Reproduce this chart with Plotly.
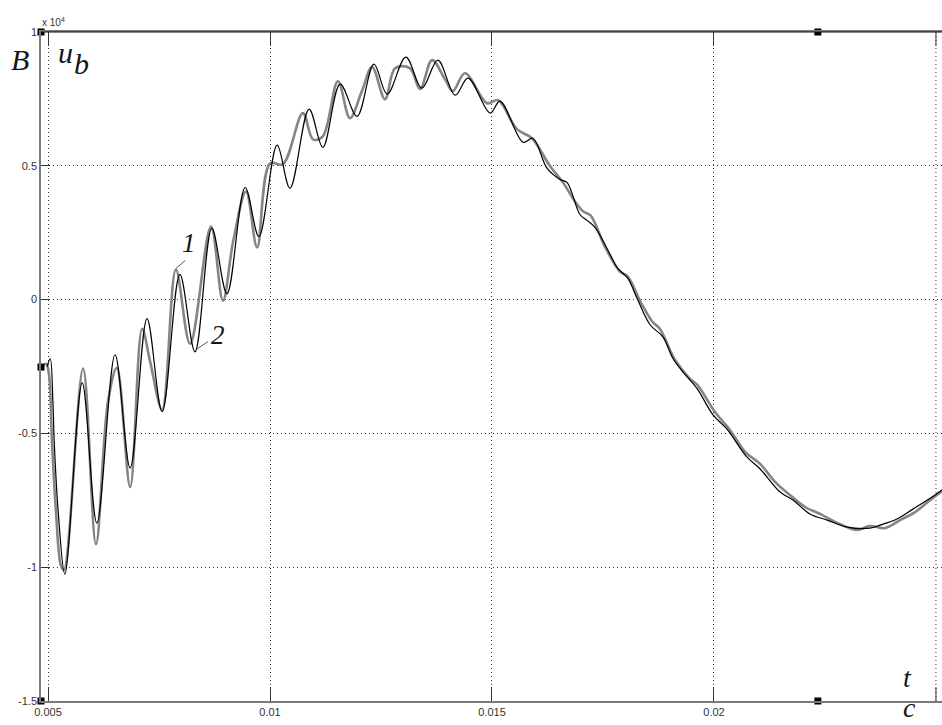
import plotly.graph_objects as go

# ---- data (t in seconds, u_b in units of 1e4) ----
t1 = [0.00498, 0.00505, 0.00511, 0.00514, 0.00523, 0.00538, 0.00577, 0.00610, 0.00651, 0.00685,
      0.00723, 0.00757, 0.00797, 0.00831, 0.00869, 0.00903, 0.00944, 0.00975, 0.01016, 0.01045,
      0.01088, 0.01119, 0.01158, 0.01196, 0.01234, 0.01264, 0.01306, 0.01342, 0.01378, 0.01417,
      0.01446, 0.01496, 0.01518, 0.01570, 0.01592, 0.01624, 0.01653, 0.01669, 0.01698, 0.01714,
      0.01732, 0.01766, 0.01782, 0.01806, 0.01827, 0.01856, 0.01885, 0.01908, 0.01930, 0.01962,
      0.01998, 0.02029, 0.02074, 0.02104, 0.02149, 0.02178, 0.02216, 0.02255, 0.02300, 0.02351,
      0.02374, 0.02412, 0.02448, 0.02498, 0.02520]
u1 = [-0.251, -0.221, -0.382, -0.532, -0.794, -1.026, -0.311, -0.835, -0.206, -0.629,
      -0.071, -0.419, 0.094, -0.195, 0.266, 0.022, 0.419, 0.236, 0.577, 0.416,
      0.712, 0.569, 0.805, 0.685, 0.880, 0.768, 0.906, 0.790, 0.895, 0.764,
      0.828, 0.697, 0.742, 0.588, 0.603, 0.491, 0.449, 0.438, 0.318, 0.296,
      0.270, 0.169, 0.120, 0.079, 0.004, -0.094, -0.139, -0.221, -0.270, -0.333,
      -0.431, -0.483, -0.588, -0.633, -0.719, -0.749, -0.801, -0.824, -0.850, -0.854,
      -0.843, -0.820, -0.783, -0.730, -0.704]

t2 = [0.00484, 0.00496, 0.00502, 0.00509, 0.00518, 0.00529, 0.00536, 0.00579, 0.00608, 0.00635,
      0.00655, 0.00685, 0.00712, 0.00730, 0.00757, 0.00788, 0.00820, 0.00867, 0.00894, 0.00917,
      0.00946, 0.00971, 0.01000, 0.01029, 0.01074, 0.01097, 0.01119, 0.01153, 0.01180, 0.01207,
      0.01230, 0.01259, 0.01282, 0.01315, 0.01338, 0.01365, 0.01394, 0.01412, 0.01439, 0.01489,
      0.01514, 0.01556, 0.01590, 0.01631, 0.01658, 0.01687, 0.01705, 0.01722, 0.01754, 0.01788,
      0.01806, 0.01834, 0.01861, 0.01878, 0.01912, 0.01946, 0.01962, 0.02002, 0.02036, 0.02070,
      0.02104, 0.02138, 0.02171, 0.02205, 0.02239, 0.02284, 0.02322, 0.02351, 0.02385, 0.02419,
      0.02453, 0.02487, 0.02520]
u2 = [-0.258, -0.240, -0.277, -0.532, -0.794, -0.993, -1.011, -0.258, -0.914, -0.382,
      -0.255, -0.700, -0.109, -0.232, -0.412, 0.112, -0.165, 0.273, -0.004, 0.217,
      0.404, 0.195, 0.509, 0.506, 0.697, 0.599, 0.610, 0.816, 0.678, 0.779,
      0.869, 0.749, 0.865, 0.865, 0.787, 0.895, 0.824, 0.779, 0.846, 0.734,
      0.745, 0.637, 0.603, 0.498, 0.442, 0.367, 0.330, 0.315, 0.199, 0.105,
      0.086, -0.007, -0.082, -0.109, -0.225, -0.296, -0.318, -0.419, -0.487, -0.569,
      -0.614, -0.682, -0.730, -0.775, -0.801, -0.839, -0.861, -0.846, -0.854, -0.824,
      -0.794, -0.749, -0.708]

x_ticks = [0.005, 0.01, 0.015, 0.02]
x_ticktext = ["0.005", "0.01", "0.015", "0.02"]
x_extra_tick = 0.025          # gridline/tick whose label falls outside the picture
y_ticks = [-1.5, -1.0, -0.5, 0.0, 0.5, 1.0]
y_ticktext = ["-1.5", "-1", "-0.5", "0", "0.5", "1"]

X_RANGE = [0.004842, 0.025136]
Y_RANGE = [-1.5, 1.0]

# small black cursor markers seen on the original figure frame
marker_t = [X_RANGE[0], X_RANGE[0], X_RANGE[0], 0.02234, 0.02234]
marker_u = [1.0, -0.252, -1.5, 1.0, -1.5]

W, H = 942, 725
ML, MR, MT, MB = 41, 0, 32, 24


def paper(px, py):
    return (px - ML) / (W - ML - MR), (H - MB - py) / (H - MT - MB)


fig = go.Figure()
fig.add_trace(go.Scatter(x=t2, y=u2, mode="lines",
                         line=dict(color="#858585", width=2.6, shape="spline", smoothing=1.0),
                         hoverinfo="skip", showlegend=False))
fig.add_trace(go.Scatter(x=t1, y=u1, mode="lines",
                         line=dict(color="#000000", width=1.2, shape="spline", smoothing=1.0),
                         hoverinfo="skip", showlegend=False))
fig.add_trace(go.Scatter(x=marker_t, y=marker_u, mode="markers",
                         marker=dict(symbol="square", size=7, color="black"),
                         cliponaxis=False, hoverinfo="skip", showlegend=False))

grid = dict(showgrid=True, gridcolor="#333333", gridwidth=1, griddash="1px,3px")
tickfont = dict(family="Liberation Sans, Arial", size=11, color="#333333")

fig.update_xaxes(range=X_RANGE, tickvals=x_ticks, ticktext=x_ticktext,
                 ticks="inside", ticklen=14, tickcolor="#333333", tickwidth=1,
                 showline=True, linecolor="#7a7a7a", linewidth=1.5, mirror="ticks",
                 zeroline=False, tickfont=tickfont, **grid)
fig.update_yaxes(range=Y_RANGE, tickvals=y_ticks, ticktext=y_ticktext,
                 ticks="inside", ticklen=8, tickcolor="#333333", tickwidth=1,
                 showline=True, linecolor="#7a7a7a", linewidth=1.5, mirror=False,
                 zeroline=False, tickfont=tickfont, **grid)

# top border
fig.add_shape(type="line", xref="paper", yref="paper", x0=0, x1=1, y0=1, y1=1,
              line=dict(color="#111111", width=1.2))
# gridline and ticks at the last x tick (label lies beyond the picture)
fig.add_shape(type="line", xref="x", yref="paper", x0=x_extra_tick, x1=x_extra_tick, y0=0, y1=1,
              line=dict(color="#333333", width=1, dash="1px,3px"), layer="below")
tick_frac = 14 / (H - MT - MB)
fig.add_shape(type="line", xref="x", yref="paper", x0=x_extra_tick, x1=x_extra_tick, y0=0, y1=tick_frac,
              line=dict(color="#333333", width=1))
fig.add_shape(type="line", xref="x", yref="paper", x0=x_extra_tick, x1=x_extra_tick, y0=1 - tick_frac, y1=1,
              line=dict(color="#333333", width=1))

# leader lines for the curve labels
fig.add_shape(type="line", xref="x", yref="y", x0=0.00788, y0=0.116, x1=0.00809, y1=0.146,
              line=dict(color="#555555", width=1))
fig.add_shape(type="line", xref="x", yref="y", x0=0.00836, y0=-0.184, x1=0.00860, y1=-0.157,
              line=dict(color="#555555", width=1))

serif = "Liberation Serif, Times New Roman, serif"
ann = []


def add_text(txt, px, py, size, family=serif, color="#161616", yanchor="middle"):
    xp, yp = paper(px, py)
    ann.append(dict(text=txt, x=xp, y=yp, xref="paper", yref="paper", showarrow=False,
                    xanchor="center", yanchor=yanchor,
                    font=dict(family=family, size=size, color=color)))


add_text("<i>B</i>", 20, 60, 30)
add_text("<i>u</i>", 65, 52, 30)
add_text("<i>b</i>", 81, 64, 30)
add_text("<i>t</i>", 907, 677, 28)
add_text("<i>c</i>", 909, 725, 28, yanchor="bottom")
add_text("<i>1</i>", 189, 243, 27)
add_text("<i>2</i>", 218, 335, 27)
add_text("x 10<sup>4</sup>", 53, 22, 10, family="Liberation Sans, Arial", color="#333333")

fig.update_layout(width=W, height=H, margin=dict(l=ML, r=MR, t=MT, b=MB),
                  plot_bgcolor="white", paper_bgcolor="white", annotations=ann,
                  showlegend=False)

fig.write_html("out.html")
